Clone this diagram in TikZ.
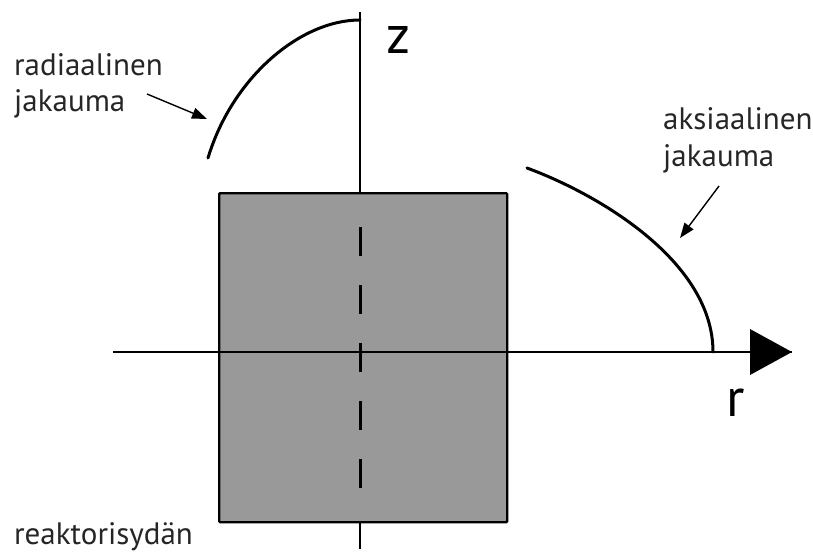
\documentclass[tikz,border=0pt]{standalone}
\usepackage{fontspec}
\setmainfont{PT Sans}
\usetikzlibrary{arrows.meta}
\definecolor{coregray}{HTML}{999999}
\tikzset{
  lbl/.style={inner sep=0pt, anchor=base west, font=\fontsize{31}{36}\selectfont, text=black!85},
  axislbl/.style={inner sep=0pt, anchor=base west, font=\fontsize{54}{60}\selectfont},
  curve/.style={line width=3pt, line cap=round},
  pointer/.style={line width=1.4pt, -{Triangle[length=15pt,width=11pt]}},
  axis/.style={line width=1.4pt},
}
\begin{document}
\begin{tikzpicture}[x=1pt,y=-1pt]
\useasboundingbox (0,0) rectangle (813,554);
% core
\node[draw=black, line width=2.4pt, fill=coregray, minimum width=288pt, minimum height=329pt, inner sep=0pt, anchor=north west, rounded corners=1pt] (core) at (218,192) {};
% axes
\coordinate (ztop) at (360,12);
\coordinate (zbot) at (360,549);
\coordinate (rleft) at (113,352);
\coordinate (rright) at (792,352);
\draw[axis] (rleft) -- (rright);
\draw[line width=2.4pt] (ztop) -- (core.north -| ztop);
\draw[line width=2.4pt] (core.south -| zbot) -- (zbot);
\draw[line width=3pt, dash pattern=on 29pt off 29pt] (360,227) -- (360,490);
\fill (750,329) -- (792,352) -- (750,375) -- cycle;
% distributions
\coordinate (rs) at (208,158);
\coordinate (re) at (360,20);
\draw[curve] (rs) .. controls (232,78) and (300,20) .. (re);
\coordinate (as) at (527,168);
\coordinate (ae) at (713,352);
\draw[curve] (as) .. controls (600,195) and (713,262) .. (ae);
% labels
\node[axislbl] (z) at (386,53) {z};
\node[axislbl] (r) at (726,416) {r};
\node[lbl] (rad) at (14,75) {radiaalinen};
\node[lbl] (radj) at (14,111) {jakauma};
\node[lbl] (ax) at (663,129) {aksiaalinen};
\node[lbl] (axj) at (663,166) {jakauma};
\node[lbl] (rc) at (14,544) {reaktorisydän};
% pointers
\coordinate (rp) at (147,94);
\coordinate (rpt) at (207,119);
\draw[pointer] (rp) -- (rpt);
\coordinate (ap) at (719,186);
\coordinate (apt) at (680,238);
\draw[pointer] (ap) -- (apt);
\end{tikzpicture}
\end{document}
